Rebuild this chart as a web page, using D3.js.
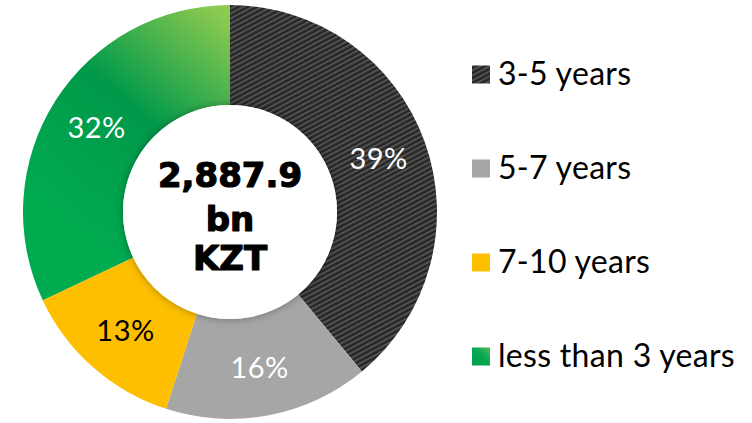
<!DOCTYPE html>
<html><head><meta charset="utf-8">
<script src="https://cdn.jsdelivr.net/npm/d3@7"></script>
<style>html,body{margin:0;padding:0;background:#fff}svg{display:block}</style>
</head><body>
<svg id="c" width="752" height="423"></svg>
<script>
const categories = ["3-5 years", "5-7 years", "7-10 years", "less than 3 years"];
const values = [39, 16, 13, 32];
const labels = ["39%", "16%", "13%", "32%"];
const labelColors = ["#ffffff", "#ffffff", "#000000", "#ffffff"];
const centerLines = ["2,887.9", "bn", "KZT"];

const svg = d3.select("#c");
const defs = svg.append("defs");

// carbon stripe pattern
const pat = defs.append("pattern").attr("id","carbon").attr("patternUnits","userSpaceOnUse")
  .attr("width",4.4).attr("height",4.4).attr("patternTransform","rotate(-28)");
pat.append("rect").attr("width",4.4).attr("height",4.4).attr("fill","#262626");
pat.append("rect").attr("y",0).attr("width",4.4).attr("height",2.0).attr("fill","#525252");

const grad = defs.append("linearGradient").attr("id","greenGrad").attr("gradientUnits","userSpaceOnUse")
  .attr("x1",60).attr("y1",200).attr("x2",228).attr("y2",5);
grad.append("stop").attr("offset",0).attr("stop-color","#00aa4f");
grad.append("stop").attr("offset",0.5).attr("stop-color","#00994a");
grad.append("stop").attr("offset",1).attr("stop-color","#8dca50");

const lgrad = defs.append("linearGradient").attr("id","greenLeg").attr("x1",0).attr("y1",1).attr("x2",1).attr("y2",0);
lgrad.append("stop").attr("offset",0).attr("stop-color","#00a04a");
lgrad.append("stop").attr("offset",0.5).attr("stop-color","#00a650");
lgrad.append("stop").attr("offset",1).attr("stop-color","#4cbb55");

const sh = defs.append("filter").attr("id","shadow").attr("x","-20%").attr("y","-20%").attr("width","140%").attr("height","140%");
sh.append("feDropShadow").attr("dx",0).attr("dy",0).attr("stdDeviation",4).attr("flood-color","#000").attr("flood-opacity",0.35);

const fills = ["url(#carbon)", "#a6a6a6", "#fdbf00", "url(#greenGrad)"];
const legendFills = ["url(#carbon)", "#a6a6a6", "#fdbf00", "url(#greenLeg)"];

const cx = 230, cy = 212, rOuter = 207, rInner = 107;
const pie = d3.pie().sort(null).value(d => d)(values);
const arc = d3.arc().innerRadius(rInner).outerRadius(rOuter);
const lblArc = d3.arc().innerRadius(158).outerRadius(158);

const g = svg.append("g").attr("transform",`translate(${cx},${cy})`);
g.selectAll("path.s").data(pie).join("path").attr("class","s")
  .attr("d", arc).attr("fill", (d,i) => fills[i]);

g.append("circle").attr("r", rInner).attr("fill","#fff").attr("filter","url(#shadow)");
g.append("circle").attr("r", rInner-1).attr("fill","#fff");

g.selectAll("text.l").data(pie).join("text").attr("class","l")
  .attr("transform", d => `translate(${lblArc.centroid(d)})`)
  .attr("text-anchor","middle").attr("dy","0.36em")
  .attr("font-family","Lato, sans-serif").attr("font-size",29).attr("letter-spacing",0.5)
  .attr("fill",(d,i)=>labelColors[i]).text((d,i)=>labels[i]);

const ct = g.append("text").attr("text-anchor","middle")
  .attr("font-family","'DejaVu Sans', sans-serif").attr("font-weight",700).attr("font-size",34)
  .attr("fill","#000").attr("stroke","#000").attr("stroke-width",1.2).attr("stroke-linejoin","round");
const baseY = [-25, 19, 58];
centerLines.forEach((t,i)=>{
  ct.append("tspan").attr("x",0).attr("y",baseY[i]).text(t);
});

// legend
const ly = d3.scalePoint().domain(categories).range([74.5, 356.5]);
const lg = svg.append("g");
const row = lg.selectAll("g").data(categories).join("g")
  .attr("transform", d => `translate(472,${ly(d)})`);
row.append("rect").attr("x",0).attr("y",-9).attr("width",18).attr("height",18)
  .attr("fill",(d,i)=>legendFills[i]);
row.append("text").attr("x",26).attr("y",0).attr("dy","0.33em")
  .attr("font-family","Lato, sans-serif").attr("font-size",32).attr("letter-spacing",0.3).attr("fill","#000").text(d=>d);
</script>
</body></html>
